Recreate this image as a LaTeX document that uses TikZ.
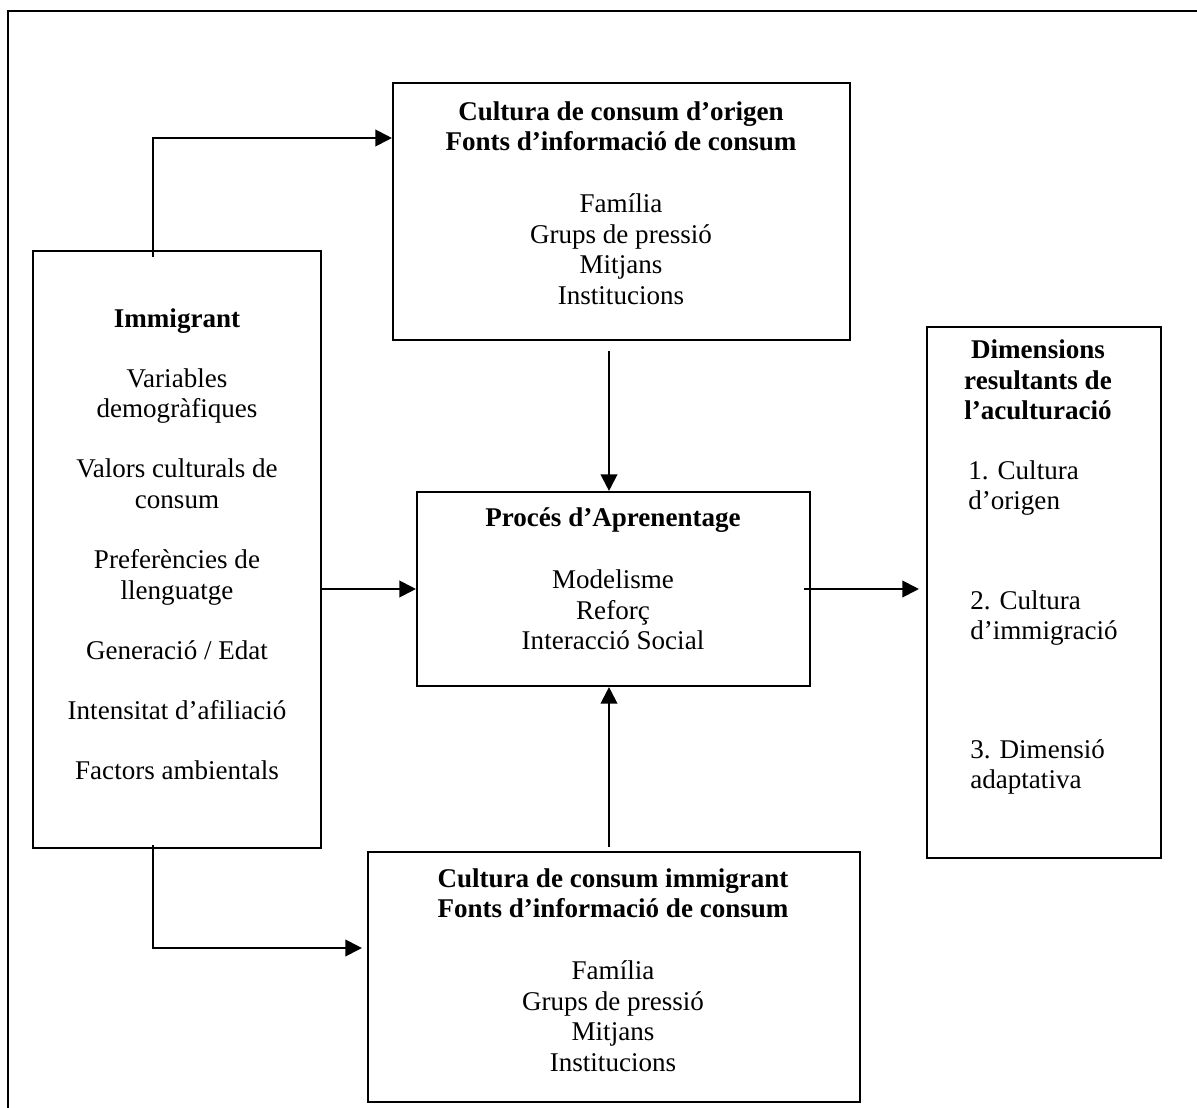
\documentclass[tikz,border=0pt]{standalone}
\usepackage{fontspec}
\setmainfont{Liberation Serif}
\usetikzlibrary{arrows.meta,fit}

\begin{document}
\begin{tikzpicture}[
    x=0.02cm, y=-0.02cm,
    font=\fontsize{15.4}{17.4}\selectfont,
    caixa/.style={draw, line width=1.2pt, inner sep=0pt},
    texte/.style={align=center, inner sep=0pt},
    llista/.style={align=left, inner sep=0pt, anchor=west},
    fletxa/.style={line width=1.2pt, -{Triangle[length=9.5pt,width=9.5pt]}}
  ]
    % 画布大小与裁剪
    \useasboundingbox (0,0) rectangle (1197,1108);
    \clip (0,0) rectangle (1197,1108);
    % 外框(右侧与底部超出画面)
    \draw[line width=1.2pt] (8,11) rectangle (1230,1140);
    % 定义各方框
    \node[caixa, fit={(33,251) (321,848)}] (immigrant) {};
    \node[caixa, fit={(393,83) (850,340)}] (origen) {};
    \node[caixa, fit={(417,492) (810,686)}] (proces) {};
    \node[caixa, fit={(368,852) (860,1102)}] (acollida) {};
    \node[caixa, fit={(927,327) (1161,858)}] (dimensions) {};
    % 左侧方框文字
    \node[texte] (immigranttxt) at (177,544) {\textbf{Immigrant}\\[16.8pt]
      Variables\\demogràfiques\\[16.8pt]
      Valors culturals de\\consum\\[16.8pt]
      Preferències de\\llenguatge\\[16.8pt]
      Generació / Edat\\[16.8pt]
      Intensitat d’afiliació\\[16.8pt]
      Factors ambientals};
    % 上方方框文字
    \node[texte] (origentxt) at (621,203) {\textbf{Cultura de consum d’origen}\\
      \textbf{Fonts d’informació de consum}\\[17.6pt]
      Família\\Grups de pressió\\Mitjans\\Institucions};
    % 中间方框文字
    \node[texte] (procestxt) at (613,579) {\textbf{Procés d’Aprenentage}\\[17.6pt]
      Modelisme\\Reforç\\Interacció Social};
    % 下方方框文字
    \node[texte] (acollidatxt) at (613,970) {\textbf{Cultura de consum immigrant}\\
      \textbf{Fonts d’informació de consum}\\[17.6pt]
      Família\\Grups de pressió\\Mitjans\\Institucions};
    % 右侧方框文字
    \node[texte] (dimensionstxt) at (1038,380) {\textbf{Dimensions}\\
      \textbf{resultants de}\\\textbf{l’aculturació}};
    \node[llista] (dimA) at (968,488) {1. Cultura\\d’origen};
    \node[llista] (dimB) at (970,618) {2. Cultura\\d’immigració};
    \node[llista] (dimC) at (970,767) {3. Dimensió\\adaptativa};
    % 折线拐点
    \coordinate (colzeA) at (153,138);
    \coordinate (colzeB) at (153,948);
    \coordinate (eix) at (609,589);
    % 连接箭头
    \draw[fletxa, shorten <=-0.14cm] (colzeA |- immigrant.north) -- (colzeA) -- (colzeA -| origen.west);
    \draw[fletxa, shorten <=-0.08cm, shorten >=0.1cm] (colzeB |- immigrant.south) -- (colzeB) -- (colzeB -| acollida.west);
    \draw[fletxa] (immigrant.east |- proces.west) -- (proces.west);
    \draw[fletxa, shorten <=-0.14cm, shorten >=0.14cm] (proces.east) -- (proces.east -| dimensions.west);
    \draw[fletxa, shorten <=0.2cm] (eix |- origen.south) -- (eix |- proces.north);
    \draw[fletxa, shorten <=0.08cm] (eix |- acollida.north) -- (eix |- proces.south);
\end{tikzpicture}
\end{document}
